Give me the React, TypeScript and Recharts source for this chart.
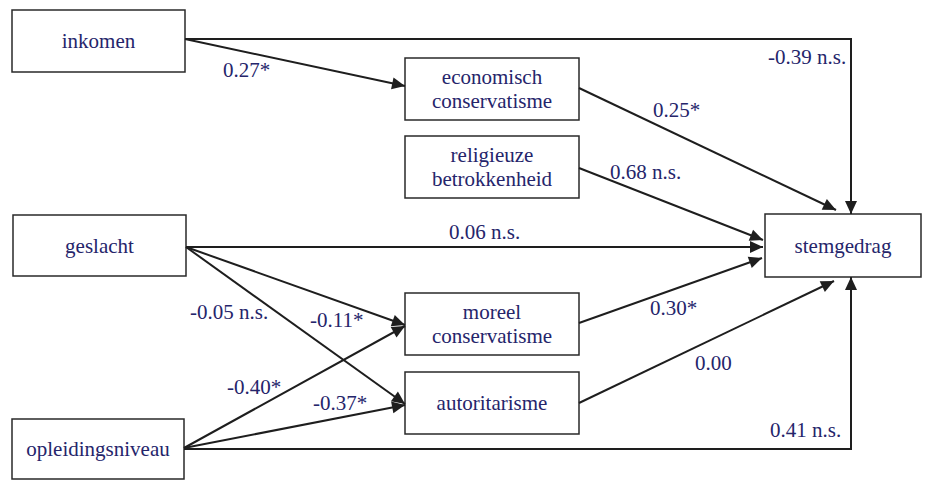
import React from "react";
import {
  ScatterChart,
  Scatter,
  XAxis,
  YAxis,
  ReferenceArea,
} from "recharts";

// variables in the path model
const NODE_IDS = [
  "inkomen",
  "econ",
  "relig",
  "geslacht",
  "stem",
  "moreel",
  "autor",
  "opleid",
];
const NODE_LABELS = [
  ["inkomen"],
  ["economisch", "conservatisme"],
  ["religieuze", "betrokkenheid"],
  ["geslacht"],
  ["stemgedrag"],
  ["moreel", "conservatisme"],
  ["autoritarisme"],
  ["opleidingsniveau"],
];

// paths: from -> to with coefficient and significance
const PATH_FROM = ["inkomen", "inkomen", "econ", "relig", "geslacht", "geslacht", "geslacht", "opleid", "opleid", "opleid", "moreel", "autor"];
const PATH_TO = ["econ", "stem", "stem", "stem", "stem", "moreel", "autor", "moreel", "autor", "stem", "stem", "stem"];
const PATH_COEF = [0.27, -0.39, 0.25, 0.68, 0.06, -0.11, -0.05, -0.4, -0.37, 0.41, 0.3, 0.0];
const PATH_SIG = ["*", "n.s.", "*", "n.s.", "n.s.", "*", "n.s.", "*", "*", "n.s.", "*", ""];

// layout (pixel-like units of the drawing area)
const BOXES: Record<string, [number, number, number, number]> = {
  inkomen: [12, 10, 185, 72],
  econ: [405, 58, 579, 120],
  relig: [405, 136, 579, 198],
  geslacht: [13, 215, 186, 276],
  stem: [765, 214, 921, 277],
  moreel: [405, 293, 579, 355],
  autor: [405, 372, 579, 434],
  opleid: [12, 419, 184, 479],
};
const ROUTES: number[][][] = [
  [[185, 39], [405, 86]],
  [[185, 39], [851, 39], [851, 214]],
  [[579, 88], [836, 210]],
  [[579, 168], [763, 240]],
  [[186, 247], [763, 247]],
  [[186, 247], [405, 325]],
  [[186, 247], [405, 404]],
  [[184, 448], [405, 326]],
  [[184, 448], [405, 405]],
  [[184, 449], [851, 449], [851, 277]],
  [[579, 323], [762, 258]],
  [[579, 403], [834, 281]],
];
const LABEL_POS: number[][] = [
  [223, 70],
  [768, 57],
  [653, 110],
  [610, 172],
  [449, 232],
  [310, 320],
  [190, 312],
  [227, 387],
  [313, 403],
  [770, 430],
  [650, 308],
  [695, 363],
];

const TEXT = "#25256b";
const LINE = "#1e1e1e";
const FONT = "Liberation Serif";
const FS = 21;

function fmt(v: number, sig: string) {
  const s = v.toFixed(2);
  return sig ? `${s}${sig === "*" ? "*" : " " + sig}` : s;
}

const Arrow = (props: any) => {
  const { cx, cy, payload } = props;
  if (!payload.head) return <g />;
  const a = Math.atan2(payload.dy, payload.dx);
  const L = 13;
  const W = 6;
  const bx = cx - L * Math.cos(a);
  const by = cy - L * Math.sin(a);
  const nx = -Math.sin(a) * W;
  const ny = Math.cos(a) * W;
  return (
    <polygon
      points={`${cx},${cy} ${bx + nx},${by + ny} ${bx - nx},${by - ny}`}
      fill={LINE}
    />
  );
};

const NodeText = (props: any) => {
  const { cx, cy, payload } = props;
  const lines: string[] = payload.lines;
  const lh = 24;
  const y0 = cy - ((lines.length - 1) * lh) / 2;
  return (
    <g>
      {lines.map((l, i) => (
        <text
          key={i}
          x={cx}
          y={y0 + i * lh}
          dy="0.35em"
          textAnchor="middle"
          fontFamily={FONT}
          fontSize={FS}
          fill={TEXT}
        >
          {l}
        </text>
      ))}
    </g>
  );
};

const CoefText = (props: any) => {
  const { cx, cy, payload } = props;
  return (
    <text
      x={cx}
      y={cy}
      dy="0.35em"
      fontFamily={FONT}
      fontSize={FS}
      fill={TEXT}
    >
      {payload.text}
    </text>
  );
};

export default function App() {
  const edges = ROUTES.map((pts) =>
    pts.map((p, i) => {
      const prev = pts[i - 1] || p;
      return {
        x: p[0],
        y: p[1],
        head: i === pts.length - 1,
        dx: p[0] - prev[0],
        dy: p[1] - prev[1],
      };
    })
  );
  const nodeData = NODE_IDS.map((id, i) => {
    const b = BOXES[id];
    return { x: (b[0] + b[2]) / 2, y: (b[1] + b[3]) / 2, lines: NODE_LABELS[i] };
  });
  const coefData = PATH_COEF.map((v, i) => ({
    x: LABEL_POS[i][0],
    y: LABEL_POS[i][1],
    text: fmt(v, PATH_SIG[i]),
    from: PATH_FROM[i],
    to: PATH_TO[i],
  }));

  return (
    <div style={{ position: "absolute", left: 0, top: 0, background: "#fff" }}>
      <ScatterChart
        width={926}
        height={480}
        margin={{ top: 0, right: 0, bottom: 0, left: 0 }}
      >
        <XAxis type="number" dataKey="x" domain={[0, 926]} hide allowDataOverflow />
        <YAxis type="number" dataKey="y" domain={[0, 480]} reversed hide allowDataOverflow />
        {NODE_IDS.map((id) => {
          const b = BOXES[id];
          return (
            <ReferenceArea
              key={id}
              x1={b[0]}
              x2={b[2]}
              y1={b[1]}
              y2={b[3]}
              fill="#fff"
              fillOpacity={1}
              stroke="#2a2a2a"
              strokeWidth={1.5}
            />
          );
        })}
        {edges.map((d, i) => (
          <Scatter
            key={i}
            data={d}
            line={{ stroke: LINE, strokeWidth: 2 }}
            shape={Arrow}
            isAnimationActive={false}
          />
        ))}
        <Scatter data={nodeData} shape={NodeText} isAnimationActive={false} />
        <Scatter data={coefData} shape={CoefText} isAnimationActive={false} />
      </ScatterChart>
    </div>
  );
}
